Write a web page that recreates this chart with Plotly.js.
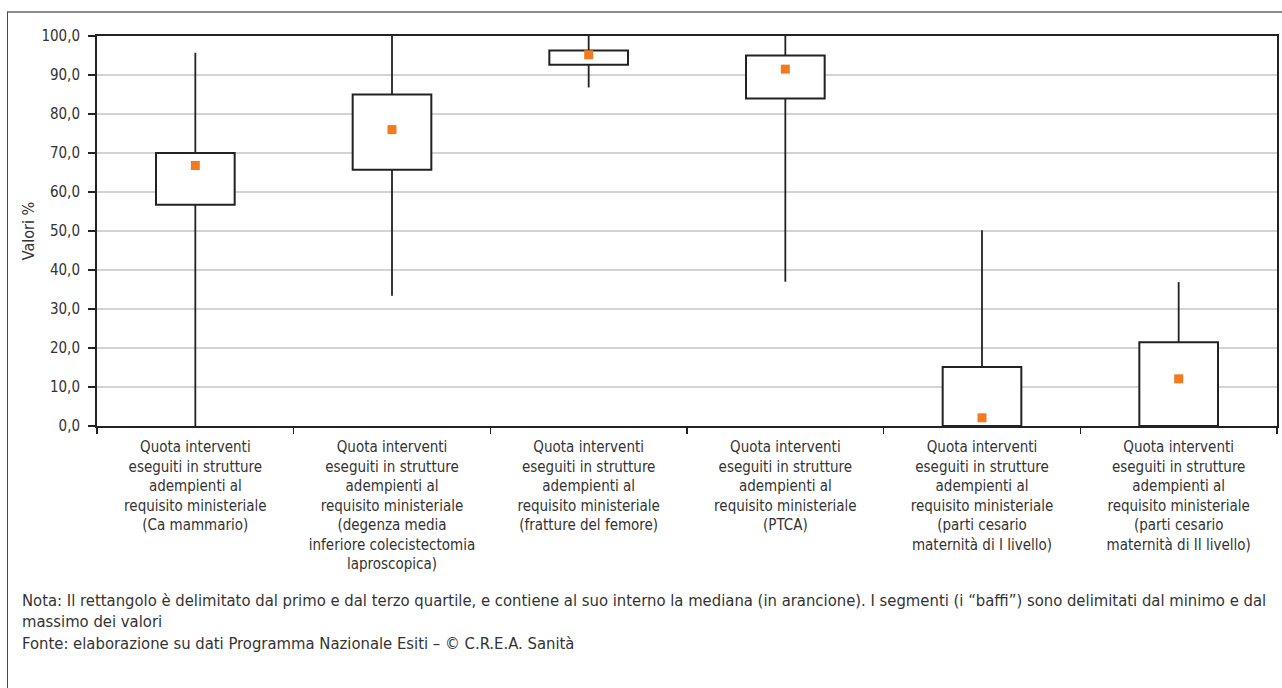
<!DOCTYPE html>
<html>
<head>
<meta charset="utf-8">
<script src="https://cdn.plot.ly/plotly-3.0.1.min.js"></script>
<style>
  body { margin: 0; background: #fff; }
  #wrap { position: relative; width: 1282px; height: 688px; }
  #frame { position: absolute; left: 7px; top: 11px; right: 0; bottom: 0;
           border-top: 2px solid #8c8c8c; border-left: 1.5px solid #444; pointer-events: none; }
</style>
</head>
<body>
<div id="wrap">
  <div id="chart" style="width:1282px;height:688px;"></div>
  <div id="frame"></div>
</div>
<script>
// categories (tick labels)
let categories = [
    'Quota interventi<br>eseguiti in strutture<br>adempienti al<br>requisito ministeriale<br>(Ca mammario)',
    'Quota interventi<br>eseguiti in strutture<br>adempienti al<br>requisito ministeriale<br>(degenza media<br>inferiore colecistectomia<br>laproscopica)',
    'Quota interventi<br>eseguiti in strutture<br>adempienti al<br>requisito ministeriale<br>(fratture del femore)',
    'Quota interventi<br>eseguiti in strutture<br>adempienti al<br>requisito ministeriale<br>(PTCA)',
    'Quota interventi<br>eseguiti in strutture<br>adempienti al<br>requisito ministeriale<br>(parti cesario<br>maternità di I livello)',
    'Quota interventi<br>eseguiti in strutture<br>adempienti al<br>requisito ministeriale<br>(parti cesario<br>maternità di II livello)'
]

// box plot statistics, values %
let minimo  = [0.0, 33.4, 86.8, 37.0, 0.0, 0.0]
let q1      = [56.7, 65.7, 92.6, 84.0, 0.0, 0.0]
let mediana = [66.8, 76.0, 95.2, 91.5, 2.1, 12.1]
let q3      = [70.0, 85.0, 96.3, 95.0, 15.1, 21.5]
let massimo = [95.7, 100.0, 100.0, 100.0, 50.2, 36.9]

let nota = 'Nota: Il rettangolo è delimitato dal primo e dal terzo quartile, e contiene al suo interno la mediana (in arancione). I segmenti (i “baffi”) sono delimitati dal minimo e dal<br>massimo dei valori<br>Fonte: elaborazione su dati Programma Nazionale Esiti – © C.R.E.A. Sanità'

document.addEventListener('DOMContentLoaded', () => {
    renderBoxPlot()
})

let renderBoxPlot = () => {
    let font = '"DejaVu Sans Condensed", "Liberation Sans", Arial, sans-serif'
    let ink = '#333'

    // whiskers: q3 -> max and q1 -> min, with gaps between segments
    let wx = []
    let wy = []
    categories.forEach((c, i) => {
        wx.push(c, c, null, c, c, null)
        wy.push(q3[i], massimo[i], null, q1[i], minimo[i], null)
    })

    let boxes = {
        type: 'bar',
        x: categories,
        base: q1,
        y: q3.map((v, i) => v - q1[i]),
        width: 0.4,
        marker: {color: '#fff', line: {color: '#222', width: 2}},
        hoverinfo: 'skip'
    }

    let whiskers = {
        type: 'scatter',
        mode: 'lines',
        x: wx,
        y: wy,
        line: {color: '#222', width: 1.8},
        connectgaps: false,
        hoverinfo: 'skip'
    }

    let medians = {
        type: 'scatter',
        mode: 'markers',
        x: categories,
        y: mediana,
        marker: {symbol: 'square', size: 9, color: '#f47a20'},
        cliponaxis: false
    }

    // plot area geometry, used to place the note in paper units
    let W = 1282, H = 688
    let margin = {l: 97, r: 5, t: 36, b: 262, pad: 0}
    let pw = W - margin.l - margin.r
    let ph = H - margin.t - margin.b

    let layout = {
        width: W,
        height: H,
        margin: margin,
        showlegend: false,
        separators: ',.',
        paper_bgcolor: 'rgba(0,0,0,0)',
        plot_bgcolor: '#fff',
        font: {family: font, size: 16, color: ink},
        bargap: 0,

        xaxis: {
            type: 'category',
            range: [-0.5, 5.5],
            tickson: 'boundaries',
            ticks: 'outside',
            ticklen: 6,
            tickwidth: 1.5,
            tickcolor: '#222',
            ticklabelstandoff: 6,
            showline: true,
            linecolor: '#222',
            linewidth: 2,
            mirror: true,
            showgrid: false,
            tickfont: {family: font, size: 15, color: ink},
            fixedrange: true
        },

        yaxis: {
            range: [0, 100],
            dtick: 10,
            tickformat: '.1f',
            ticks: 'outside',
            ticklen: 7,
            tickwidth: 1.5,
            tickcolor: '#222',
            ticklabelstandoff: 5,
            showline: true,
            linecolor: '#222',
            linewidth: 2,
            mirror: true,
            showgrid: true,
            gridcolor: '#d3d3d3',
            gridwidth: 2,
            zeroline: false,
            tickfont: {family: font, size: 15, color: ink},
            title: {text: 'Valori %', font: {family: font, size: 16, color: ink}, standoff: 3},
            fixedrange: true
        },

        annotations: [{
            text: nota,
            xref: 'paper',
            yref: 'paper',
            x: (20 - margin.l) / pw,
            y: (ph - (589 - margin.t)) / ph,
            xanchor: 'left',
            yanchor: 'top',
            align: 'left',
            showarrow: false,
            font: {family: font, size: 16.5, color: ink}
        }]
    }

    Plotly.newPlot('chart', [boxes, whiskers, medians], layout, {displayModeBar: false, staticPlot: true})
}
</script>
</body>
</html>
